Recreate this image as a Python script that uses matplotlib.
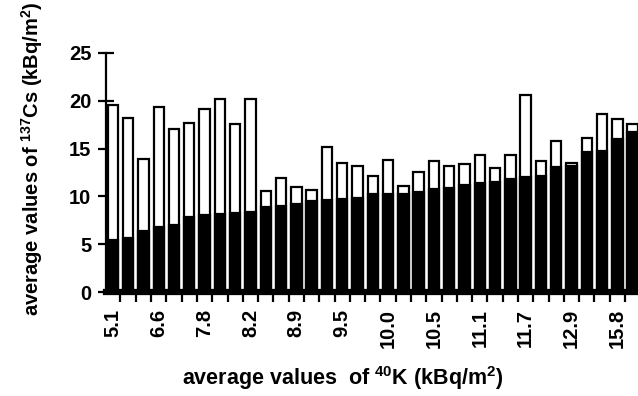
import numpy as np
import matplotlib
matplotlib.use("Agg")
import matplotlib.pyplot as plt

plt.rcParams['font.family'] = ['Liberation Sans', 'DejaVu Sans']
plt.rcParams['font.weight'] = 'bold'
plt.rcParams['mathtext.fontset'] = 'custom'
plt.rcParams['mathtext.rm'] = 'Liberation Sans:bold'
plt.rcParams['mathtext.bf'] = 'Liberation Sans:bold'
plt.rcParams['mathtext.default'] = 'bf'

# 137Cs totals (white top) and black part, per 40K class
cs_total = [19.6, 18.2, 13.9, 19.3, 17.0, 17.7, 19.1, 20.2, 17.6, 20.2,
            10.6, 11.95, 11.0, 10.7, 15.2, 13.5, 13.2, 12.1, 13.85, 11.1,
            12.6, 13.7, 13.2, 13.4, 14.3, 13.0, 14.3, 20.6, 13.7, 15.8,
            13.5, 16.1, 18.6, 18.1, 17.6]
cs_black = [5.4, 5.7, 6.4, 6.85, 7.0, 7.8, 8.05, 8.2, 8.3, 8.4,
            8.9, 9.0, 9.16, 9.5, 9.6, 9.7, 9.85, 10.2, 10.2, 10.3,
            10.5, 10.8, 10.9, 11.2, 11.4, 11.5, 11.85, 12.0, 12.1, 13.05,
            13.2, 14.6, 14.7, 16.0, 16.75]
k_labels = ["5.1", "6.6", "7.8", "8.2", "8.9", "9.5", "10.0", "10.5",
            "11.1", "11.7", "12.9", "15.8"]

x = np.arange(len(cs_total))

fig = plt.figure(figsize=(6.38, 3.96), dpi=100)
ax = fig.add_axes([0.1661, 0.2626, 0.8339, 0.6036])

ax.bar(x, cs_total, width=0.68, color='white', edgecolor='black', linewidth=1.6, zorder=2)
ax.bar(x, cs_black, width=0.68, color='black', edgecolor='black', linewidth=1.6, zorder=3)

ax.set_xlim(-0.45, len(x) - 0.65)
ax.set_ylim(0, 25)
ax.set_yticks([0, 5, 10, 15, 20, 25])

ax.set_xticks(x[::3], k_labels, rotation=90)
ax.set_xticks(x[:-1] + 0.5, minor=True)
ax.tick_params(axis='x', which='major', length=0, pad=12, labelsize=14.5)
ax.tick_params(axis='x', which='minor', direction='out', length=7, width=1.6)
ax.tick_params(axis='y', direction='inout', length=11, width=1.6, pad=5, labelsize=14.5)

for s in ['top', 'right']:
    ax.spines[s].set_visible(False)
ax.spines['left'].set_linewidth(1.6)
ax.spines['bottom'].set_linewidth(4.5)
ax.spines['bottom'].set_zorder(4)

fig.text(0.537, 0.045, r'average values  of $^{40}$K (kBq/m$^2$)',
         ha='center', va='center', fontsize=15.5, fontweight='bold')
fig.text(0.05, 0.60, r'average values of $^{137}$Cs (kBq/m$^2$)',
         ha='center', va='center', rotation=90, fontsize=14.5, fontweight='bold')

fig.savefig("out.png", dpi=100)
